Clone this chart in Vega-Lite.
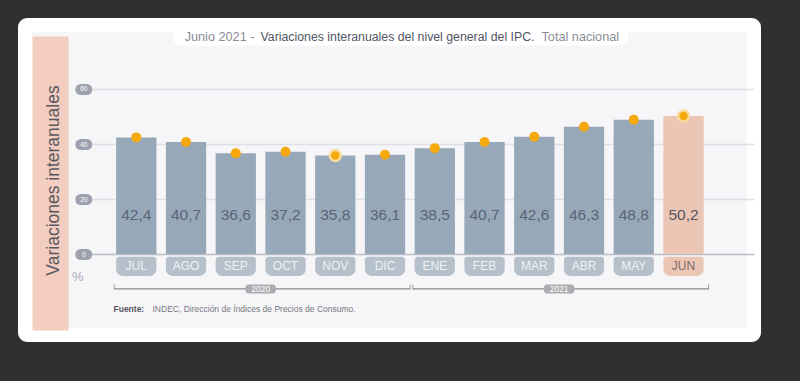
{
  "$schema": "https://vega.github.io/schema/vega-lite/v6.json",
  "width": 729,
  "height": 310,
  "autosize": {"type": "none"},
  "padding": {"left": 25, "top": 25, "right": 46, "bottom": 46},
  "background": "#303030",
  "title": {
    "text": "Variaciones interanuales del nivel general del IPC.",
    "anchor": "middle",
    "frame": "group",
    "offset": -24,
    "baseline": "middle",
    "fontSize": 12.3,
    "fontWeight": "normal",
    "color": "#525566",
    "dx": 8
  },
  "config": {
    "font": "Liberation Sans",
    "view": {"fill": "#f6f6f9", "stroke": "#ffffff", "strokeWidth": 14, "cornerRadius": 2}
  },
  "datasets": {
    "ipc": [
      {"month": "JUL", "value": 42.4, "label": "42,4"},
      {"month": "AGO", "value": 40.7, "label": "40,7"},
      {"month": "SEP", "value": 36.6, "label": "36,6"},
      {"month": "OCT", "value": 37.2, "label": "37,2"},
      {"month": "NOV", "value": 35.8, "label": "35,8"},
      {"month": "DIC", "value": 36.1, "label": "36,1"},
      {"month": "ENE", "value": 38.5, "label": "38,5"},
      {"month": "FEB", "value": 40.7, "label": "40,7"},
      {"month": "MAR", "value": 42.6, "label": "42,6"},
      {"month": "ABR", "value": 46.3, "label": "46,3"},
      {"month": "MAY", "value": 48.8, "label": "48,8"},
      {"month": "JUN", "value": 50.2, "label": "50,2"}
    ],
    "years": [
      {"year": "2020", "from": "JUL", "to": "DIC", "mid": "OCT"},
      {"year": "2021", "from": "ENE", "to": "JUN", "mid": "ABR"}
    ]
  },
  "layer": [
    {
      "data": {"name": "ipc"},
      "mark": {"type": "bar", "width": {"band": 0.81}},
      "encoding": {
        "x": {
          "field": "month", "type": "nominal", "sort": null,
          "scale": {"type": "band", "domain": ["_pad","JUL","AGO","SEP","OCT","NOV","DIC","ENE","FEB","MAR","ABR","MAY","JUN"], "paddingInner": 0, "paddingOuter": 0.827, "align": 0.4456},
          "axis": {
            "orient": "bottom", "labels": false, "ticks": false, "domain": false, "grid": false,
            "title": "Fuente:", "titleFontSize": 8.5, "titleFontWeight": "bold", "titleColor": "#555560",
            "titleX": 88, "titleY": -27, "titleAlign": "left", "titleBaseline": "middle", "titleAnchor": "start"
          }
        },
        "y": {
          "field": "value", "type": "quantitative",
          "scale": {"domain": [-29.45, 83.27], "nice": false, "zero": false},
          "axis": {
            "orient": "left", "offset": -61.3, "values": [-8.2, 0, 20, 40, 60],
            "domain": false, "title": null, "labelOverlap": false,
            "ticks": true, "tickSize": 6, "tickWidth": 11, "tickCap": "round", "tickColor": "#9da2ae",
            "tickOpacity": {"condition": {"test": "datum.value < 0", "value": 0}, "value": 1},
            "labelExpr": "datum.value < 0 ? '%' : datum.label",
            "labelAlign": "center", "labelBaseline": "middle",
            "labelPadding": {"condition": {"test": "datum.value < 0", "value": 3}, "value": -3},
            "labelFontSize": {"condition": {"test": "datum.value < 0", "value": 13}, "value": 6.5},
            "labelColor": {"condition": {"test": "datum.value < 0", "value": "#a9a9b3"}, "value": "#ffffff"},
            "grid": true, "gridDash": [0, 65, 2000], "gridWidth": 1.5,
            "gridColor": {"condition": {"test": "datum.value === 0", "value": "#b9bdc6"}, "value": "#dfe0e5"},
            "gridOpacity": {"condition": {"test": "datum.value < 0", "value": 0}, "value": 1}
          }
        },
        "color": {"condition": {"test": "datum.month === 'JUN'", "value": "#ebc6b4"}, "value": "#97a8b8"}
      }
    },
    {
      "data": {"name": "ipc"},
      "mark": {"type": "bar", "width": {"band": 0.81}, "cornerRadiusTopLeft": 3, "cornerRadiusTopRight": 3, "cornerRadiusBottomLeft": 7, "cornerRadiusBottomRight": 7},
      "encoding": {
        "x": {
          "field": "month", "type": "nominal", "sort": null,
          "axis": {
            "orient": "bottom", "labels": false, "ticks": false, "domain": false, "grid": false,
            "title": "INDEC, Dirección de Índices de Precios de Consumo.", "titleFontSize": 8.5, "titleFontWeight": "normal", "titleColor": "#777780",
            "titleX": 127, "titleY": -27, "titleAlign": "left", "titleBaseline": "middle", "titleAnchor": "start"
          }
        },
        "y": {"datum": -1.0, "type": "quantitative", "axis": null},
        "y2": {"datum": -8.0},
        "color": {"condition": {"test": "datum.month === 'JUN'", "value": "#ebc6b4"}, "value": "#b5c0cb"}
      }
    },
    {
      "data": {"name": "ipc"},
      "mark": {"type": "text", "fontSize": 12, "baseline": "middle"},
      "encoding": {
        "x": {
          "field": "month", "type": "nominal", "sort": null,
          "axis": {
            "orient": "top", "offset": -11, "labels": false, "ticks": false, "grid": false, "title": null,
            "domain": true, "domainColor": "#ffffff", "domainWidth": 18, "domainCap": "round",
            "domainDash": [438, 2000], "domainDashOffset": -156
          }
        },
        "y": {"datum": -4.4, "type": "quantitative", "axis": null},
        "text": {"field": "month"},
        "color": {"condition": {"test": "datum.month === 'JUN'", "value": "#7d6b66"}, "value": "#eef1f4"},
        "fontWeight": {"condition": {"test": "datum.month === 'JUN'", "value": "bold"}, "value": "normal"}
      }
    },
    {
      "data": {"name": "ipc"},
      "mark": {"type": "text", "fontSize": 15.5, "baseline": "middle"},
      "encoding": {
        "x": {
          "field": "month", "type": "nominal", "sort": null,
          "axis": {
            "orient": "top", "labels": false, "ticks": false, "domain": false, "grid": false,
            "title": "Junio 2021 -", "titleFontSize": 12.7, "titleFontWeight": "normal", "titleColor": "#8a8c98",
            "titleX": 229, "titleY": 11, "titleAlign": "right", "titleBaseline": "middle", "titleAnchor": "start"
          }
        },
        "y": {"datum": 14.2, "type": "quantitative", "axis": null},
        "text": {"field": "label"},
        "color": {"condition": {"test": "datum.month === 'JUN'", "value": "#55555f"}, "value": "#5a6479"},
        "fontWeight": {"condition": {"test": "datum.month === 'JUN'", "value": "bold"}, "value": "normal"}
      }
    },
    {
      "data": {"name": "ipc"},
      "mark": {"type": "point", "filled": true, "opacity": 1},
      "encoding": {
        "x": {
          "field": "month", "type": "nominal", "sort": null,
          "axis": {
            "orient": "top", "labels": false, "ticks": false, "domain": false, "grid": false,
            "title": "Total nacional", "titleFontSize": 12.7, "titleFontWeight": "normal", "titleColor": "#8a8c98",
            "titleX": 516, "titleY": 11, "titleAlign": "left", "titleBaseline": "middle", "titleAnchor": "start"
          }
        },
        "y": {
          "field": "value", "type": "quantitative",
          "axis": {
            "orient": "left", "offset": -25, "domain": true, "domainColor": "#f3cdbf", "domainWidth": 36,
            "domainDash": [0, 5, 294, 400], "ticks": false, "labels": false, "grid": false,
            "title": "Variaciones interanuales", "titleFontSize": 17.5, "titleFontWeight": "normal", "titleColor": "#57575f",
            "titleX": 3, "titleY": 155, "titleAngle": -90, "titleAlign": "center", "titleBaseline": "middle"
          }
        },
        "color": {"value": "#f5a90c"},
        "size": {"condition": {"test": "datum.month === 'JUN' || datum.month === 'NOV'", "value": 120}, "value": 100},
        "stroke": {"condition": {"test": "datum.month === 'JUN' || datum.month === 'NOV'", "value": "#fbdc9a"}, "value": "#f5a90c"},
        "strokeWidth": {"condition": {"test": "datum.month === 'JUN' || datum.month === 'NOV'", "value": 2.5}, "value": 0}
      }
    },
    {
      "data": {"name": "years"},
      "mark": {"type": "rule", "color": "#8a8a8f", "strokeWidth": 1.2, "xOffset": -22, "x2Offset": 25},
      "encoding": {
        "x": {"field": "from", "type": "nominal", "axis": null},
        "x2": {"field": "to"},
        "y": {"datum": -12.7, "type": "quantitative", "axis": null}
      }
    },
    {
      "data": {"name": "years"},
      "mark": {"type": "tick", "orient": "vertical", "color": "#8a8a8f", "thickness": 1.2, "size": 5, "xOffset": -22, "yOffset": -2},
      "encoding": {
        "x": {"field": "from", "type": "nominal", "axis": null},
        "y": {"datum": -12.7, "type": "quantitative", "axis": null}
      }
    },
    {
      "data": {"name": "years"},
      "mark": {"type": "tick", "orient": "vertical", "color": "#8a8a8f", "thickness": 1.2, "size": 5, "xOffset": 25, "yOffset": -2},
      "encoding": {
        "x": {"field": "to", "type": "nominal", "axis": null},
        "y": {"datum": -12.7, "type": "quantitative", "axis": null}
      }
    },
    {
      "data": {"name": "years"},
      "mark": {"type": "point", "filled": true, "opacity": 1, "shape": "M-1.3,-0.45L1.3,-0.45C1.6,-0.45,1.6,0.45,1.3,0.45L-1.3,0.45C-1.6,0.45,-1.6,-0.45,-1.3,-0.45Z", "size": 400, "color": "#ababb0"},
      "encoding": {
        "x": {"field": "mid", "type": "nominal", "bandPosition": 0, "axis": null},
        "y": {"datum": -12.7, "type": "quantitative", "axis": null}
      }
    },
    {
      "data": {"name": "years"},
      "mark": {"type": "text", "fontSize": 8.5, "baseline": "middle", "color": "#ffffff"},
      "encoding": {
        "x": {"field": "mid", "type": "nominal", "bandPosition": 0, "axis": null},
        "y": {"datum": -12.7, "type": "quantitative", "axis": null},
        "text": {"field": "year"}
      }
    }
  ],
  "resolve": {"axis": {"x": "independent", "y": "independent"}}
}
